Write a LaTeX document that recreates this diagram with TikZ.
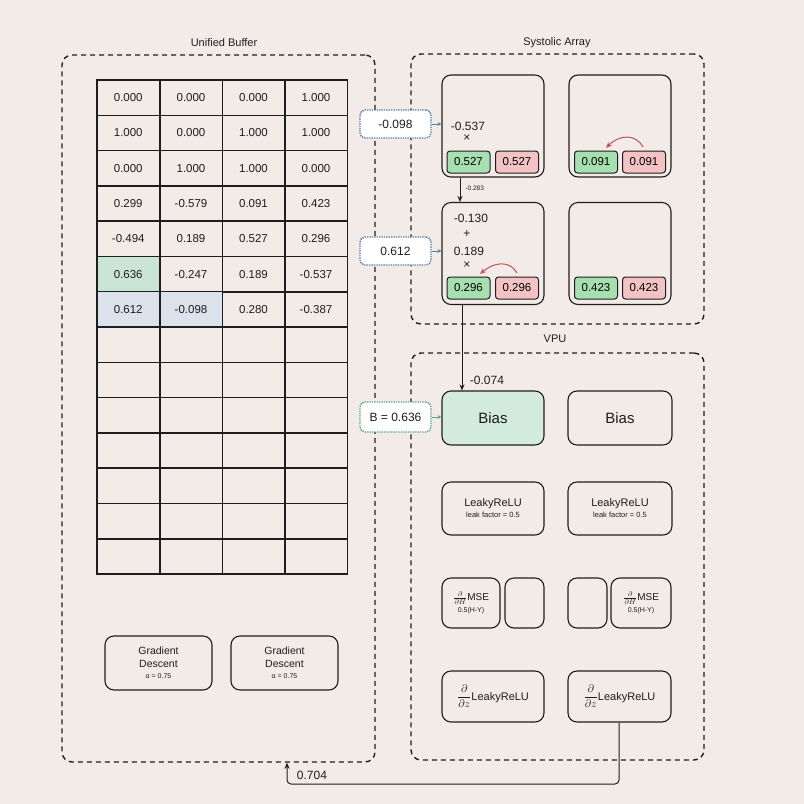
\documentclass[tikz,border=0pt]{standalone}
\usepackage{fontspec}
\setmainfont{Liberation Sans}
\usetikzlibrary{arrows.meta}
\definecolor{bg}{HTML}{F3EBE8}
\definecolor{ink}{HTML}{1E1E1E}
\definecolor{gcell}{HTML}{CBE5D4}
\definecolor{bcell}{HTML}{DCE2EC}
\definecolor{gbox}{HTML}{A6E0B0}
\definecolor{rbox}{HTML}{F2C2C4}
\definecolor{biasg}{HTML}{D2EBDD}
\definecolor{blued}{HTML}{5B7FA6}
\definecolor{greend}{HTML}{5FA583}
\definecolor{redc}{HTML}{C0505A}
\tikzset{
  container/.style={draw=ink, dash pattern=on 5pt off 4pt, line width=1.4pt, rounded corners=10pt, inner sep=0},
  title/.style={font=\fontsize{11}{12}\selectfont, text=ink},
  cell/.style={draw=ink, line width=1.5pt, minimum width=62.5pt, minimum height=35.3pt, inner sep=0, font=\fontsize{11.5}{12}\selectfont, text=ink},
  pe/.style={draw=ink, line width=1.1pt, rounded corners=9pt, inner sep=0, minimum width=102pt, minimum height=102pt},
  unitbox/.style={draw=ink, line width=1.1pt, rounded corners=9pt, inner sep=0, align=center, text=ink},
  val/.style={font=\fontsize{12}{13}\selectfont, text=ink, inner sep=0},
  gval/.style={draw=ink, fill=gbox, rounded corners=3pt, line width=1pt, minimum width=43pt, minimum height=22pt, inner sep=0, font=\fontsize{11.5}{12}\selectfont},
  rval/.style={gval, fill=rbox},
  inbox/.style={fill=white, densely dotted, line width=1.4pt, rounded corners=5pt, minimum width=71pt, minimum height=28pt, inner sep=0, font=\fontsize{12}{13}\selectfont, text=ink},
  conn/.style={draw=ink, line width=1pt, -{Stealth[length=6pt,width=5pt]}},
  redarr/.style={draw=redc, line width=1pt, -{Stealth[length=6pt,width=5pt]}},
  small/.style={font=\fontsize{6.5}{8}\selectfont, text=ink, inner sep=0},
}
\begin{document}
\begin{tikzpicture}[x=1pt,y=-1pt]
\fill[bg] (0,0) rectangle (804,804);
\useasboundingbox (0,0) rectangle (804,804);

% containers
\node[container, minimum width=313pt, minimum height=707pt] (ub) at (218.5,408.5) {};
\node[container, minimum width=293pt, minimum height=270pt] (sa) at (557.5,189) {};
\node[container, minimum width=293pt, minimum height=407pt] (vpu) at (557.5,556.5) {};
\node[title] (ubt) at (224,43) {Unified Buffer};
\node[title] (sat) at (557,43) {Systolic Array};
\node[title] (vput) at (555,339) {VPU};

% grid
\foreach \r/\a/\b/\c/\d in {1/0.000/0.000/0.000/1.000, 2/1.000/0.000/1.000/1.000, 3/0.000/1.000/1.000/0.000,
  4/0.299/-0.579/0.091/0.423, 5/-0.494/0.189/0.527/0.296, 6/0.636/-0.247/0.189/-0.537, 7/0.612/-0.098/0.280/-0.387,
  8/ / / / , 9/ / / / , 10/ / / / , 11/ / / / , 12/ / / / , 13/ / / / , 14/ / / / }{
  \pgfmathsetmacro{\yy}{80+35.29*(\r-0.5)}
  \node[cell] (c\r-1) at (128.25,\yy) {\a};
  \node[cell] (c\r-2) at (191,\yy) {\b};
  \node[cell] (c\r-3) at (253.5,\yy) {\c};
  \node[cell] (c\r-4) at (316,\yy) {\d};
}
\node[cell, fill=gcell] at (c6-1) {0.636};
\node[cell, fill=bcell] at (c7-1) {0.612};
\node[cell, fill=bcell] at (c7-2) {-0.098};

% gradient descent
\node[unitbox, minimum width=107pt, minimum height=54pt, font=\fontsize{10.5}{13}\selectfont] (gd1) at (158.5,663)
  {Gradient\\Descent\\[-2pt]{\fontsize{7}{8}\selectfont α = 0.75}};
\node[unitbox, minimum width=107pt, minimum height=54pt, font=\fontsize{10.5}{13}\selectfont] (gd2) at (284.5,663)
  {Gradient\\Descent\\[-2pt]{\fontsize{7}{8}\selectfont α = 0.75}};

% systolic array PEs
\node[pe] (pe11) at (493,126) {};
\node[pe] (pe12) at (620,126) {};
\node[pe] (pe21) at (493,253.5) {};
\node[pe] (pe22) at (620,253.5) {};

\node[val] (v11a) at (468,126) {-0.537};
\node[val] (v11b) at (467,138.5) {×};
\node[gval] (g11) at (468.5,162) {0.527};
\node[rval] (r11) at (517,162) {0.527};

\node[gval] (g12) at (596,162) {0.091};
\node[rval] (r12) at (644,162) {0.091};

\node[val] (v21a) at (471,218) {-0.130};
\node[val] (v21b) at (467,234) {+};
\node[val] (v21c) at (469,251) {0.189};
\node[val] (v21d) at (467,265) {×};
\node[gval] (g21) at (468.5,288) {0.296};
\node[rval] (r21) at (517,288) {0.296};

\node[gval] (g22) at (596,288) {0.423};
\node[rval] (r22) at (644,288) {0.423};

% red move arrows
\coordinate (ra1) at (643,147);
\coordinate (ra2) at (606,148);
\coordinate (rb1) at (517,273);
\coordinate (rb2) at (480,274);
\draw[redarr] (ra1) .. controls (636,134) and (620,134) .. (ra2);
\draw[redarr] (rb1) .. controls (510,260) and (494,262) .. (rb2);

% input boxes
\node[inbox, draw=blued] (in1) at (395.5,124) {-0.098};
\node[inbox, draw=blued] (in2) at (395.5,251) {0.612};
\node[inbox, draw=greend, minimum height=30pt] (in3) at (395.5,417) {B = 0.636};

\draw[blued, line width=1pt, -{Stealth[length=4pt,width=4pt]}] (in1.east) -- (in1.east -| pe11.west);
\draw[blued, line width=1pt, -{Stealth[length=4pt,width=4pt]}] (in2.east) -- (in2.east -| pe21.west);

% VPU units
\node[unitbox, fill=biasg, minimum width=102pt, minimum height=54pt, font=\fontsize{15}{16}\selectfont] (bias1) at (493,418) {Bias};
\node[unitbox, minimum width=104pt, minimum height=54pt, font=\fontsize{15}{16}\selectfont] (bias2) at (620,418) {Bias};
\draw[greend, line width=1pt, -{Stealth[length=4pt,width=4pt]}] (in3.east) -- (in3.east -| bias1.west);

\node[unitbox, minimum width=102pt, minimum height=53pt, font=\fontsize{11}{13}\selectfont] (lr1) at (493,508.5)
  {LeakyReLU\\[-2pt]{\fontsize{7.5}{8}\selectfont leak factor = 0.5}};
\node[unitbox, minimum width=104pt, minimum height=53pt, font=\fontsize{11}{13}\selectfont] (lr2) at (620,508.5)
  {LeakyReLU\\[-2pt]{\fontsize{7.5}{8}\selectfont leak factor = 0.5}};

\node[unitbox, minimum width=58pt, minimum height=50pt, font=\fontsize{10}{12}\selectfont] (mse1) at (471,603)
  {$\frac{\partial}{\partial H}$MSE\\[0pt]{\fontsize{7}{8}\selectfont 0.5(H-Y)}};
\node[unitbox, minimum width=39pt, minimum height=50pt] (e1) at (524.5,603) {};
\node[unitbox, minimum width=39pt, minimum height=50pt] (e2) at (587.5,603) {};
\node[unitbox, minimum width=60pt, minimum height=50pt, font=\fontsize{10}{12}\selectfont] (mse2) at (641,603)
  {$\frac{\partial}{\partial H}$MSE\\[0pt]{\fontsize{7}{8}\selectfont 0.5(H-Y)}};

\node[unitbox, minimum width=102pt, minimum height=51pt, font=\fontsize{11}{12}\selectfont] (dl1) at (493,696.5)
  {$\displaystyle\frac{\partial}{\partial z}$LeakyReLU};
\node[unitbox, minimum width=103pt, minimum height=51pt, font=\fontsize{11}{12}\selectfont] (dl2) at (619.5,696.5)
  {$\displaystyle\frac{\partial}{\partial z}$LeakyReLU};

% systolic connectors
\coordinate (xa) at (460,0);
\coordinate (xb) at (462,0);
\draw[conn] (pe11.south -| xa) -- node[small, right=5pt, pos=0.45] {-0.283} (pe21.north -| xa);
\draw[conn] (pe21.south -| xb) -- (bias1.north -| xb);
\node[val] (l074) at (487,380) {-0.074};

% feedback
\coordinate (fb1) at (619,784);
\coordinate (fb2) at (287,784);
\draw[conn, rounded corners=4pt] (dl2.south -| fb1) -- (fb1) -- (fb2) -- (fb2 |- ub.south);
\node[val] (l704) at (312,775) {0.704};
\end{tikzpicture}
\end{document}
